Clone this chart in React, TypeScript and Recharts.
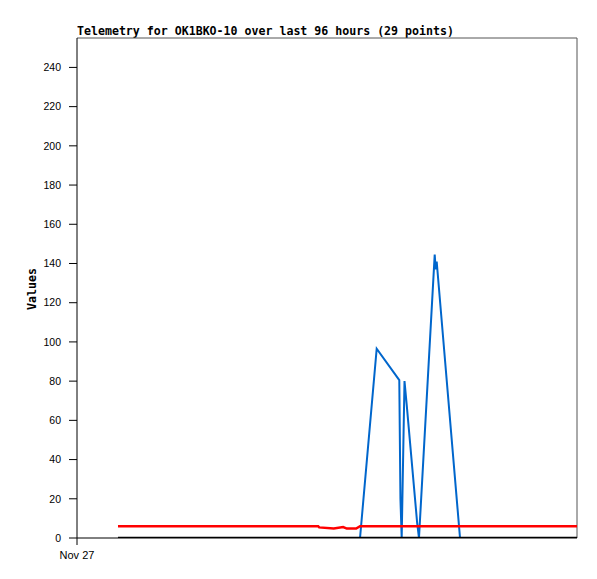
import React from 'react';
import { LineChart, Line, XAxis, YAxis, ReferenceLine } from 'recharts';

// hours since start of Nov 27
const times = [7.87, 46.3, 46.5, 49.3, 51.1, 51.8, 53.6, 54.34, 57.54, 61.88, 62.1, 62.34, 62.88, 63.3, 65.3, 65.66, 68.68, 68.87, 69.06, 73.54, 96];
const blueValues = [0, 0, 0, 0, 0, 0, 0, 0, 96.5, 80.5, 20, 0, 80, 68, 8, 0, 144.5, 137, 141, 0, 0];
const redValues = [6, 6, 5.4, 4.8, 5.6, 4.8, 4.8, 6, 6, 6, 6, 6, 6, 6, 6, 6, 6, 6, 6, 6, 6];
const blackValues = [0, 0, 0, 0, 0, 0, 0, 0, 0, 0, 0, 0, 0, 0, 0, 0, 0, 0, 0, 0, 0];
const yTicks = [0, 20, 40, 60, 80, 100, 120, 140, 160, 180, 200, 220, 240];
const xTicks = [0];
const xTickLabels = ['Nov 27'];
const title = 'Telemetry for OK1BKO-10 over last 96 hours (29 points)';
const yLabel = 'Values';

const data = times.map((t, i) => ({ t, blue: blueValues[i], red: redValues[i], black: blackValues[i] }));

const boldMono: React.CSSProperties = {
  fontFamily: '"DejaVu Sans Mono", monospace',
  fontWeight: 'bold',
  fontSize: 11.6,
  color: '#000',
  whiteSpace: 'pre',
  lineHeight: '13px',
};

export default function App() {
  return (
    <div style={{ position: 'absolute', left: 0, top: 0, width: 597, height: 579, background: '#fff' }}>
      <div style={{ ...boldMono, position: 'absolute', left: 77, top: 25 }}>{title}</div>
      <div
        style={{
          ...boldMono,
          position: 'absolute',
          left: 32,
          top: 289,
          transform: 'translate(-50%, -50%) rotate(-90deg)',
        }}
      >
        {yLabel}
      </div>
      <LineChart width={597} height={579} data={data} margin={{ top: 38, right: 20, bottom: 11, left: 27 }}>
        <XAxis
          dataKey="t"
          type="number"
          domain={[0, 96]}
          ticks={xTicks}
          tickFormatter={(v: number, i: number) => xTickLabels[i] ?? ''}
          height={30}
          tickSize={7}
          tickMargin={6}
          axisLine={{ stroke: '#000', strokeWidth: 1 }}
          tickLine={{ stroke: '#000' }}
          tick={{ fill: '#000', fontFamily: '"Liberation Sans", Arial, sans-serif', fontSize: 11 }}
          allowDataOverflow
        />
        <YAxis
          type="number"
          domain={[0, 255]}
          ticks={yTicks}
          width={50}
          tickSize={8}
          tickMargin={8}
          interval={0}
          axisLine={{ stroke: '#000', strokeWidth: 1 }}
          tickLine={{ stroke: '#000' }}
          tick={{ fill: '#000', fontFamily: '"Liberation Sans", Arial, sans-serif', fontSize: 10.5 }}
          allowDataOverflow
        />
        <ReferenceLine y={255} stroke="#555" strokeWidth={1} ifOverflow="visible" />
        <ReferenceLine x={96} stroke="#555" strokeWidth={1} ifOverflow="visible" />
        <Line type="linear" dataKey="blue" stroke="#0066cc" strokeWidth={2} dot={false} isAnimationActive={false} />
        <Line type="linear" dataKey="red" stroke="#ff0000" strokeWidth={2.5} dot={false} isAnimationActive={false} />
        <Line type="linear" dataKey="black" stroke="#000" strokeWidth={2.5} dot={false} isAnimationActive={false} />
      </LineChart>
    </div>
  );
}
